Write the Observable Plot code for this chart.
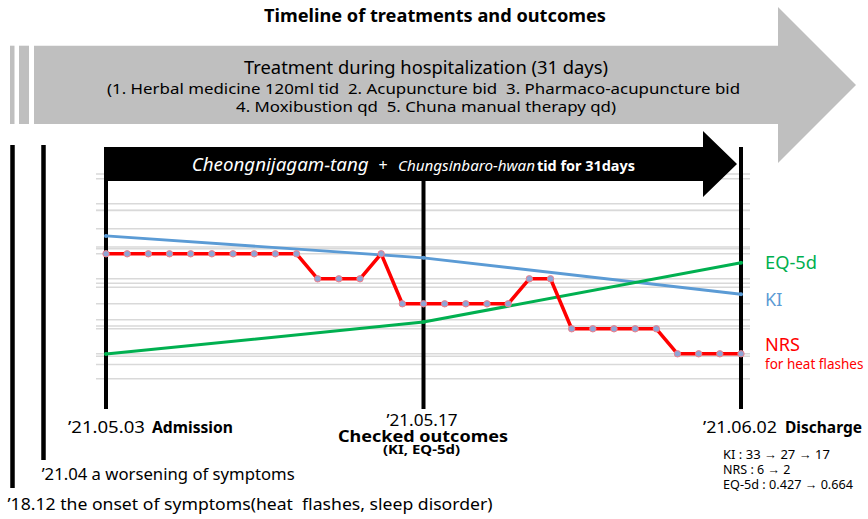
<!DOCTYPE html>
<html><head><meta charset="utf-8">
<script src="https://cdn.jsdelivr.net/npm/d3@7"></script>
<script src="https://cdn.jsdelivr.net/npm/@observablehq/plot@0.6"></script>
<style>
html,body{margin:0;padding:0;background:#fff;overflow:hidden}
#wrap{position:relative;width:868px;height:519px;font-family:"Noto Sans",sans-serif}
#wrap > svg{position:absolute;left:0;top:0}
text{white-space:pre}
</style></head><body><div id="wrap"></div>
<script>
// ---- data ----
const dayIndex = [0,1,2,3,4,5,6,7,8,9,10,11,12,13,14,15,16,17,18,19,20,21,22,23,24,25,26,27,28,29,30];
const nrsValues = [6,6,6,6,6,6,6,6,6,6,5,5,5,6,4,4,4,4,4,4,5,5,3,3,3,3,3,2,2,2,2];
const checkDays = [0, 15, 30];
const kiValues = [33, 27, 17];
const eqValues = [0.427, 0.51, 0.664];
const milestoneDays = [0, 15, 30];
const nrsGrid = [1,2,3,4,5,6,7,8,9];
const kiGrid = [0,10,20,30,40,50];
const eqGrid = [0.4,0.5,0.6,0.7,0.8];

const kiRows = checkDays.map((d,i)=>({day:d, value:kiValues[i]}));
const eqRows = checkDays.map((d,i)=>({day:d, value:eqValues[i]}));
const nrsRows = dayIndex.map((d,i)=>({day:d, value:nrsValues[i]}));

const wrap = document.getElementById("wrap");
const W = 868, H = 519;

function layer(y, marks) {
  const svg = Plot.plot({
    width: W, height: H,
    marginLeft: 96, marginRight: 118, marginTop: 147, marginBottom: 110,
    x: {domain: [0, 30], range: [105.5, 740.5], axis: null},
    y: {...y, axis: null},
    style: {background: "transparent", overflow: "visible", fontFamily: "Noto Sans"},
    marks
  });
  wrap.appendChild(svg);
  return svg;
}
function overlay() {
  return d3.select(wrap).append("svg").attr("width", W).attr("height", H).attr("viewBox", `0 0 ${W} ${H}`);
}
function txt(g, x, y, s, o = {}) {
  const t = g.append("text").attr("x", x).attr("y", y).text(s)
    .attr("font-size", o.size || 16)
    .attr("font-weight", o.weight || "normal")
    .attr("font-style", o.style || "normal")
    .attr("text-anchor", o.anchor || "start")
    .attr("fill", o.fill || "#000")
    .attr("font-family", '"Noto Sans", sans-serif');
  if (o.len) t.attr("textLength", o.len).attr("lengthAdjust", "spacingAndGlyphs");
  return t;
}

const NRS_Y = {domain: [0, 10], range: [403.3, 153.3]};
const KI_Y = {domain: [0, 50], range: [355.7, 173.5]};
const EQ_Y = {domain: [0.4, 0.8], range: [364, 209.7]};
const gridStyle = {stroke: "#d9d9d9", strokeOpacity: 1, strokeWidth: 1.5};

// ---- background decorations ----
const bg = overlay();
bg.append("rect").attr("x", 10).attr("y", 45.7).attr("width", 4.5).attr("height", 78.3).attr("fill", "#bfbfbf");
bg.append("rect").attr("x", 19).attr("y", 45.7).attr("width", 10).attr("height", 78.3).attr("fill", "#bfbfbf");
bg.append("path").attr("d", "M34,45.7 L778,45.7 L778,7 L856,85 L778,163 L778,124 L34,124 Z").attr("fill", "#bfbfbf");
txt(bg, 435, 21.5, "Timeline of treatments and outcomes", {size: 17, weight: "bold", anchor: "middle", len: 342});
txt(bg, 426, 74, "Treatment during hospitalization (31 days)", {size: 18, anchor: "middle", len: 364});
txt(bg, 423.5, 94, "(1. Herbal medicine 120ml tid  2. Acupuncture bid  3. Pharmaco-acupuncture bid", {size: 15, anchor: "middle", len: 633});
txt(bg, 426, 111.5, "4. Moxibustion qd  5. Chuna manual therapy qd)", {size: 15, anchor: "middle", len: 380});
// earlier timeline lines
bg.append("line").attr("x1", 12.5).attr("x2", 12.5).attr("y1", 145).attr("y2", 488).attr("stroke", "#000").attr("stroke-width", 4.5);
bg.append("line").attr("x1", 43.5).attr("x2", 43.5).attr("y1", 145).attr("y2", 460).attr("stroke", "#000").attr("stroke-width", 4.5);
// bottom labels
txt(bg, 68, 433, "’21.05.03", {size: 17, len: 77});
txt(bg, 152, 433, "Admission", {size: 16, weight: "bold", len: 81});
txt(bg, 422, 425.5, "’21.05.17", {size: 16, anchor: "middle", len: 71});
txt(bg, 423, 441.5, "Checked outcomes", {size: 16, weight: "bold", anchor: "middle", len: 170});
txt(bg, 421.5, 454, "(KI, EQ-5d)", {size: 12, weight: "bold", anchor: "middle", len: 77});
txt(bg, 703, 433, "’21.06.02", {size: 17, len: 74});
txt(bg, 785, 433, "Discharge", {size: 16, weight: "bold", len: 77});
txt(bg, 723, 459, "KI : 33 → 27 → 17", {size: 12.5, len: 107});
txt(bg, 723, 474, "NRS : 6 → 2", {size: 12.5});
txt(bg, 723, 489, "EQ-5d : 0.427 → 0.664", {size: 12.5, len: 130});
txt(bg, 41.7, 480, "’21.04 a worsening of symptoms", {size: 17, len: 253});
txt(bg, 7.5, 510, "’18.12 the onset of symptoms(heat  flashes, sleep disorder)", {size: 17, len: 485});
// series labels
txt(bg, 765, 268.5, "EQ-5d", {size: 18, fill: "#00b050", len: 52});
txt(bg, 765, 306, "KI", {size: 18, fill: "#5b9bd5"});
txt(bg, 765, 351, "NRS", {size: 18, fill: "#ff0000", len: 35});
txt(bg, 765, 368.5, "for heat flashes", {size: 13.5, fill: "#ff0000"});

// ---- grids & milestone rules ----
layer(KI_Y, [Plot.gridY(kiGrid, gridStyle)]);
layer(EQ_Y, [Plot.gridY(eqGrid, gridStyle)]);
layer(NRS_Y, [
  Plot.gridY(nrsGrid, gridStyle),
  Plot.ruleX(milestoneDays, {stroke: "#000", strokeWidth: 4})
]);

// ---- black treatment arrow ----
const fg = overlay();
fg.append("path").attr("d", "M104,147 L703,147 L703,131 L737,164 L703,197 L703,181 L104,181 Z").attr("fill", "#000");
txt(fg, 191.7, 170.5, "Cheongnijagam-tang", {size: 18, style: "italic", fill: "#fff", len: 177});
txt(fg, 378.5, 170.5, "+", {size: 16, fill: "#fff"});
txt(fg, 398, 170.5, "Chungsinbaro-hwan", {size: 14, style: "italic", fill: "#fff", len: 137});
txt(fg, 537, 170.5, "tid for 31days", {size: 15, weight: "bold", fill: "#fff", len: 98});

// ---- data series ----
layer(KI_Y, [
  Plot.line(kiRows, {x: "day", y: "value", stroke: "#5b9bd5", strokeWidth: 2.8}),
  Plot.dot(kiRows, {x: "day", y: "value", r: 2, fill: "#5b9bd5"})
]);
layer(EQ_Y, [
  Plot.line(eqRows, {x: "day", y: "value", stroke: "#00b050", strokeWidth: 3}),
  Plot.dot(eqRows, {x: "day", y: "value", r: 2, fill: "#00b050"})
]);
layer(NRS_Y, [
  Plot.line(nrsRows, {x: "day", y: "value", stroke: "#ff0000", strokeWidth: 3.5}),
  Plot.dot(nrsRows, {x: "day", y: "value", r: 3.2, fill: "#8ea5d6", stroke: "#f07f8a", strokeWidth: 1})
]);
</script></body></html>
